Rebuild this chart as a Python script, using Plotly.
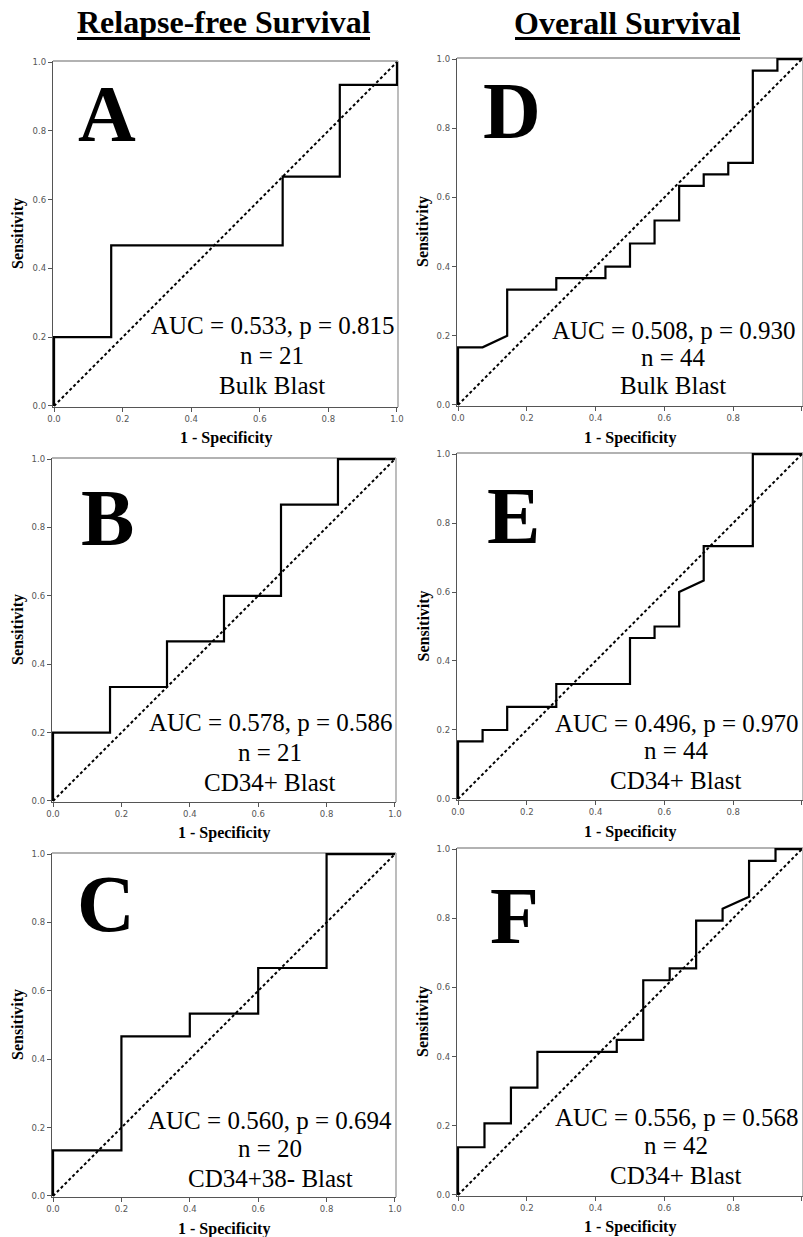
import plotly.graph_objects as go

W, H = 803, 1237

# ---------------- data ----------------
panel_letters = ["A", "B", "C", "D", "E", "F"]
column_titles = ["Relapse-free Survival", "Overall Survival"]

a_fpr = [0, 0, 0.1667, 0.1667, 0.6667, 0.6667, 0.8333, 0.8333, 1, 1]
a_tpr = [0, 0.2, 0.2, 0.4667, 0.4667, 0.6667, 0.6667, 0.9333, 0.9333, 1]

b_fpr = [0, 0, 0.1667, 0.1667, 0.3333, 0.3333, 0.5, 0.5, 0.6667, 0.6667, 0.8333, 0.8333, 1]
b_tpr = [0, 0.2, 0.2, 0.3333, 0.3333, 0.4667, 0.4667, 0.6, 0.6, 0.8667, 0.8667, 1, 1]

c_fpr = [0, 0, 0.2, 0.2, 0.4, 0.4, 0.6, 0.6, 0.8, 0.8, 1]
c_tpr = [0, 0.1333, 0.1333, 0.4667, 0.4667, 0.5333, 0.5333, 0.6667, 0.6667, 1, 1]

d_fpr = [0, 0, 0.0714, 0.1429, 0.1429, 0.2857, 0.2857, 0.4286, 0.4286, 0.5, 0.5,
         0.5714, 0.5714, 0.6429, 0.6429, 0.7143, 0.7143, 0.7857, 0.7857, 0.8571,
         0.8571, 0.9286, 0.9286, 1]
d_tpr = [0, 0.1667, 0.1667, 0.2, 0.3333, 0.3333, 0.3667, 0.3667, 0.4, 0.4, 0.4667,
         0.4667, 0.5333, 0.5333, 0.6333, 0.6333, 0.6667, 0.6667, 0.7, 0.7,
         0.9667, 0.9667, 1, 1]

e_fpr = [0, 0, 0.0714, 0.0714, 0.1429, 0.1429, 0.2857, 0.2857, 0.5, 0.5, 0.5714,
         0.5714, 0.6429, 0.6429, 0.7143, 0.7143, 0.8571, 0.8571, 1]
e_tpr = [0, 0.1667, 0.1667, 0.2, 0.2, 0.2667, 0.2667, 0.3333, 0.3333, 0.4667, 0.4667,
         0.5, 0.5, 0.6, 0.6333, 0.7333, 0.7333, 1, 1]

f_fpr = [0, 0, 0.0769, 0.0769, 0.1538, 0.1538, 0.2308, 0.2308, 0.4615, 0.4615,
         0.5385, 0.5385, 0.6154, 0.6154, 0.6923, 0.6923, 0.7692, 0.7692, 0.8462,
         0.8462, 0.9231, 0.9231, 1]
f_tpr = [0, 0.1379, 0.1379, 0.2069, 0.2069, 0.3103, 0.3103, 0.4138, 0.4138, 0.4483,
         0.4483, 0.6207, 0.6207, 0.6552, 0.6552, 0.7931, 0.7931, 0.8276, 0.8621,
         0.9655, 0.9655, 1, 1]

auc_labels = ["AUC = 0.533, p = 0.815", "AUC = 0.578, p = 0.586", "AUC = 0.560, p = 0.694",
              "AUC = 0.508, p = 0.930", "AUC = 0.496, p = 0.970", "AUC = 0.556, p = 0.568"]
n_labels = ["n = 21", "n = 21", "n = 20", "n = 44", "n = 44", "n = 42"]
cell_labels = ["Bulk Blast", "CD34+ Blast", "CD34+38- Blast",
               "Bulk Blast", "CD34+ Blast", "CD34+ Blast"]

ref_line = [0, 1]
tick_vals = [0.0, 0.2, 0.4, 0.6, 0.8, 1.0]

fprs = [a_fpr, b_fpr, c_fpr, d_fpr, e_fpr, f_fpr]
tprs = [a_tpr, b_tpr, c_tpr, d_tpr, e_tpr, f_tpr]

# ---------------- layout geometry (pixels) ----------------
# (left, right, top, bottom)
boxes = [(53, 398, 61, 407), (52, 396, 458, 802), (52, 396, 853, 1197),
         (457, 803, 58, 406), (457, 803, 453, 800), (457, 803, 848, 1196)]
letter_pos = [(107, 114), (107, 518), (106, 904), (512, 111), (513, 516), (514, 916)]
text_x = [272, 270, 270, 673, 676, 676]
text_y = [(325, 355, 385), (722, 752, 782), (1120, 1148, 1178),
          (330, 357, 385), (723, 750, 780), (1117, 1145, 1175)]
xtitle_y = [438, 833, 1229, 438, 832, 1227]
ytitle_x = [18, 18, 18, 423, 423, 423]

def px(x):
    return x / W

def py(y):
    return 1 - y / H

serif = "Liberation Serif, Times New Roman, serif"
fig = go.Figure()
annotations = []
shapes = []

for i in range(6):
    l, r, t, b = boxes[i]
    ax = "" if i == 0 else str(i + 1)
    xa, ya = "x" + ax, "y" + ax
    fig.add_trace(go.Scatter(x=ref_line, y=ref_line, mode="lines", xaxis=xa, yaxis=ya,
                             line=dict(color="black", width=2, dash="3px,2.5px"),
                             showlegend=False, hoverinfo="skip"))
    fig.add_trace(go.Scatter(x=fprs[i], y=tprs[i], mode="lines", xaxis=xa, yaxis=ya,
                             line=dict(color="black", width=2.2),
                             showlegend=False))
    common = dict(range=[-0.003, 1.003], tickvals=tick_vals, tickformat=".1f",
                  showgrid=False, zeroline=False, showline=True, linecolor="#555555",
                  linewidth=1.3, mirror=False, ticks="outside", ticklen=4,
                  tickcolor="#555555", tickwidth=1, automargin=False,
                  tickfont=dict(family="DejaVu Sans", size=8.5, color="#555555"),
                  layer="below traces")
    fig.update_layout(**{
        "xaxis" + ax: dict(domain=[px(l), px(r)], anchor=ya, **common),
        "yaxis" + ax: dict(domain=[py(b), py(t)], anchor=xa, **common),
    })
    # top and right frame lines (lighter)
    shapes.append(dict(type="line", xref="paper", yref="paper", x0=px(l), x1=px(r),
                       y0=py(t), y1=py(t), line=dict(color="#999999", width=1.3), layer="below"))
    shapes.append(dict(type="line", xref="paper", yref="paper", x0=px(r), x1=px(r),
                       y0=py(t), y1=py(b), line=dict(color="#999999", width=1.3), layer="below"))
    # panel letter
    lx, ly = letter_pos[i]
    annotations.append(dict(x=px(lx), y=py(ly), xref="paper", yref="paper",
                            text="<b>%s</b>" % panel_letters[i], showarrow=False,
                            xanchor="center", yanchor="middle",
                            font=dict(family=serif, size=80, color="black")))
    # AUC text
    for txt, yy in zip([auc_labels[i], n_labels[i], cell_labels[i]], text_y[i]):
        annotations.append(dict(x=px(text_x[i]), y=py(yy), xref="paper", yref="paper",
                                text=txt, showarrow=False, xanchor="center", yanchor="middle",
                                font=dict(family=serif, size=25, color="black")))
    # axis titles
    annotations.append(dict(x=px((l + r) / 2), y=py(xtitle_y[i]), xref="paper", yref="paper",
                            text="<b>1 - Specificity</b>", showarrow=False,
                            xanchor="center", yanchor="middle",
                            font=dict(family=serif, size=16, color="black")))
    annotations.append(dict(x=px(ytitle_x[i]), y=py((t + b) / 2), xref="paper", yref="paper",
                            text="<b>Sensitivity</b>", showarrow=False, textangle=-90,
                            xanchor="center", yanchor="middle",
                            font=dict(family=serif, size=16, color="black")))

# column titles with underline
title_pos = [(223.5, 22, 77, 370), (627.5, 23, 515, 740)]
for (cx, cy, u0, u1), ttl in zip(title_pos, column_titles):
    annotations.append(dict(x=px(cx), y=py(cy), xref="paper", yref="paper",
                            text="<b>%s</b>" % ttl, showarrow=False,
                            xanchor="center", yanchor="middle",
                            font=dict(family=serif, size=32, color="black")))
    shapes.append(dict(type="line", xref="paper", yref="paper", x0=px(u0), x1=px(u1),
                       y0=py(38.5), y1=py(38.5), line=dict(color="black", width=3)))

fig.update_layout(width=W, height=H,
                  margin=dict(l=0, r=0, t=0, b=0, pad=0, autoexpand=False),
                  paper_bgcolor="white", plot_bgcolor="white",
                  annotations=annotations, shapes=shapes, showlegend=False)

fig.write_html("out.html", config={"displayModeBar": False},
               post_script="document.body.style.margin='0';"
                           "document.body.style.overflow='hidden';"
                           "document.documentElement.style.overflow='hidden';")
